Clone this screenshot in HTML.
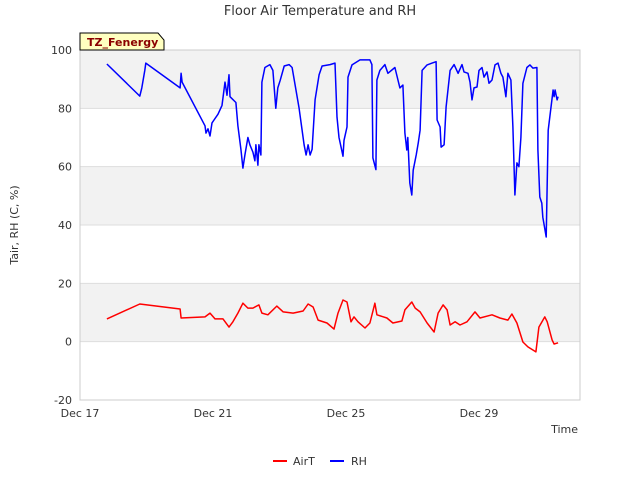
<!DOCTYPE html>
<html><head><meta charset="utf-8"><style>
body{margin:0;background:#fff;font-family:"Liberation Sans","DejaVu Sans",sans-serif;}
svg text{font-family:"DejaVu Sans","Liberation Sans",sans-serif;}
</style></head><body>
<svg id="chart" width="640" height="480" xmlns="http://www.w3.org/2000/svg">
<text x="320" y="15" text-anchor="middle" font-size="13" fill="#333">Floor Air Temperature and RH</text>
<g id="bands"></g>
<g id="axes"></g>
<g id="series"></g>
<g>
<path d="M80,33 L158,33 L164,40 L164,50 L80,50 Z" fill="#ffffc0" stroke="#000" stroke-width="1"/>
<text x="87" y="46" font-size="11" font-weight="bold" fill="#8b0000">TZ_Fenergy</text>
</g>
<text transform="translate(18,225) rotate(-90)" text-anchor="middle" font-size="11" fill="#333">Tair, RH (C, %)</text>
<text x="578" y="433" text-anchor="end" font-size="11" fill="#333">Time</text>
<g>
<line x1="273" y1="461" x2="287" y2="461" stroke="#ff0000" stroke-width="2"/>
<text x="293" y="465" font-size="11" fill="#333">AirT</text>
<line x1="330" y1="461" x2="344" y2="461" stroke="#0000ff" stroke-width="2"/>
<text x="351" y="465" font-size="11" fill="#333">RH</text>
</g>
</svg>
<script>
const yTicks=[-20,0,20,40,60,80,100];
const xTickDays=[0,4,8,12];
const xTickLabels=["Dec 17","Dec 21","Dec 25","Dec 29"];
const rhDays=[0.81,1.80,1.86,1.95,1.98,3.01,3.04,3.07,3.76,3.79,3.85,3.91,3.97,4.03,4.15,4.27,4.36,4.42,4.48,4.51,4.69,4.75,4.84,4.90,4.96,5.05,5.11,5.20,5.26,5.29,5.35,5.38,5.44,5.47,5.56,5.71,5.80,5.89,5.95,6.02,6.14,6.29,6.38,6.59,6.74,6.80,6.86,6.92,6.98,7.07,7.19,7.28,7.52,7.67,7.73,7.79,7.91,7.94,8.03,8.06,8.18,8.42,8.72,8.78,8.81,8.90,8.93,9.02,9.17,9.26,9.47,9.62,9.71,9.77,9.83,9.86,9.92,9.98,10.02,10.11,10.17,10.23,10.29,10.44,10.59,10.71,10.74,10.83,10.86,10.95,11.01,11.13,11.25,11.37,11.49,11.55,11.67,11.73,11.79,11.85,11.94,12.00,12.09,12.15,12.24,12.30,12.39,12.48,12.57,12.66,12.72,12.81,12.87,12.96,13.02,13.08,13.14,13.20,13.26,13.32,13.44,13.53,13.62,13.74,13.77,13.83,13.89,13.92,14.02,14.08,14.23,14.26,14.29,14.35,14.38];
const rhValues=[95.2,84.2,87,93,95.5,87,92,89,74,71.5,73,70.5,75,76,78,81,89,84.5,91.5,84,82,74,66,59.5,64,70,67.5,65,62,67.5,60.5,67.5,64,89,94,95,93,80,87,89.6,94.5,95,94,80,67.5,64,67.5,64,66,83,91.5,94.5,95,95.5,77,70,63.6,69,73.6,90.7,94.9,96.6,96.6,95,63,59,89.7,93,95,92,94,87,88,71.5,65.7,70,54.4,50.3,58.8,64,68,72.5,93,94.9,95.5,96,76,73.6,66.7,67.5,80.5,93,95,92,95,92.5,92,89,82.9,87,87.3,93,94,90.7,92.5,88.6,89.7,94.9,95.5,92,90.7,84,92,89.7,73.6,50.3,61.3,60,70,88.6,94,94.9,93.8,94,65.7,49.6,47.5,42.7,35.9,72.5,86.3,84,86.3,82.9,84];
const airDays=[0.81,1.80,3.01,3.04,3.76,3.91,4.06,4.30,4.48,4.60,4.75,4.90,5.05,5.20,5.38,5.47,5.65,5.92,6.11,6.41,6.71,6.86,7.01,7.16,7.43,7.64,7.76,7.91,8.03,8.15,8.24,8.36,8.57,8.72,8.87,8.93,9.23,9.41,9.68,9.77,9.98,10.08,10.23,10.44,10.65,10.77,10.92,11.04,11.13,11.28,11.43,11.64,11.88,12.03,12.39,12.63,12.87,12.99,13.14,13.32,13.47,13.71,13.80,13.98,14.05,14.20,14.26,14.38];
const airValues=[7.8,12.9,11.2,8.1,8.5,9.8,7.8,7.8,5,6.8,9.8,13.2,11.5,11.5,12.6,9.8,9.2,12.2,10.2,9.8,10.5,12.9,11.9,7.4,6.4,4.3,9.8,14.3,13.6,6.8,8.5,6.8,4.7,6.4,13.2,9.2,8.1,6.4,7.1,10.9,13.6,11.5,10.2,6.4,3.3,9.8,12.6,10.9,5.7,6.8,5.7,6.8,10.2,8.1,9.2,8.1,7.4,9.5,6.4,-0.1,-1.8,-3.5,5,8.5,6.8,0.6,-0.8,-0.4];

const L=80,R=580,T=50,B=400;
const xMin=0,xMax=(R-L)/33.25;
const yMin=-20,yMax=100;
function xs(d){return L+(d-xMin)/(xMax-xMin)*(R-L);}
function ys(v){return B-(v-yMin)/(yMax-yMin)*(B-T);}
const NS="http://www.w3.org/2000/svg";
function mk(tag,attrs,parent){const e=document.createElementNS(NS,tag);for(const k in attrs)e.setAttribute(k,attrs[k]);parent.appendChild(e);return e;}
const bands=document.getElementById('bands');
const axes=document.getElementById('axes');
const series=document.getElementById('series');
for(let i=0;i<yTicks.length-1;i++){
  if(i%2===1){
    const r=mk('rect',{x:L,y:ys(yTicks[i+1]),width:R-L,height:ys(yTicks[i])-ys(yTicks[i+1]),fill:'#f2f2f2'},bands);
    
    
  }
}
yTicks.forEach(v=>{
  const g=mk('line',{x1:L,x2:R,y1:ys(v),y2:ys(v),stroke:'#dddddd','stroke-width':1},bands);
  
  
  const t=mk('text',{x:L-8,y:ys(v)+4,'text-anchor':'end','font-size':11,fill:'#333'},axes);
  t.textContent=v;
  
  
});
mk('rect',{x:L,y:T,width:R-L,height:B-T,fill:'none',stroke:'#cccccc','stroke-width':1},axes);
xTickDays.forEach((d,i)=>{
  const t=mk('text',{x:xs(d),y:B+17,'text-anchor':'middle','font-size':11,fill:'#333'},axes);
  t.textContent=xTickLabels[i];
  
  
});
function line(days,vals,color,name){
  const p=mk('path',{d:days.map((d,i)=>(i?'L':'M')+xs(d).toFixed(1)+','+ys(vals[i]).toFixed(1)).join(' '),fill:'none',stroke:color,'stroke-width':1.5,'stroke-linejoin':'round'},series);
  
  
}
line(airDays,airValues,'#ff0000','airt-line');
line(rhDays,rhValues,'#0000ff','rh-line');
</script>
</body></html>
